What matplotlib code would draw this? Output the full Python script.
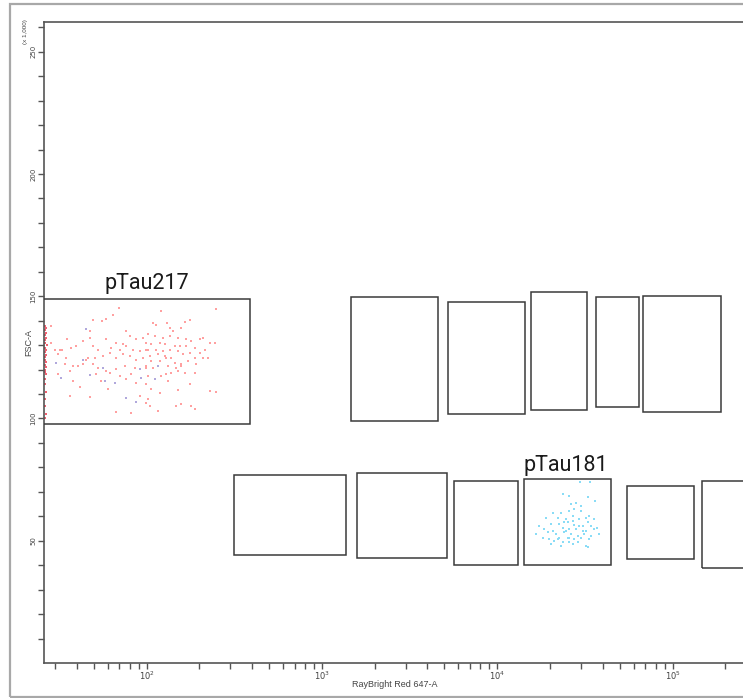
import numpy as np
import matplotlib
matplotlib.use('Agg')
import matplotlib.pyplot as plt
from matplotlib.patches import Rectangle
from matplotlib.ticker import LogLocator, FixedLocator, NullFormatter

# gates: fluorescence (RayBright Red 647-A) x FSC-A (x 1,000)
gate_x0 = [20, 1465, 5250, 15600, 36800, 68200, 314, 1585, 5680, 14260, 54600, 146500]
gate_x1 = [388, 4600, 14450, 32700, 64000, 188000, 1371, 5180, 13200, 44300, 131900, 400000]
gate_y0 = [97.8, 99.0, 101.8, 103.5, 104.7, 102.7, 44.3, 43.1, 40.2, 40.2, 42.7, 39.0]
gate_y1 = [148.8, 149.6, 147.6, 151.6, 149.6, 150.0, 76.9, 77.8, 74.5, 75.3, 72.4, 74.5]

gate_names = ['pTau217', 'pTau181']
gate_label_x = [100, 24700]
gate_label_y = [155, 80.6]

# pTau217 events (red)
red_x = [69.5, 64.3, 49.4, 55.8, 58.4, 28.6, 75.9, 47.4, 35.2, 43.4, 47.4, 58.9, 80.0, 87.3,
         95.3, 67.2, 73.3, 28.6, 29.9, 31.9, 33.1, 37.2, 39.7, 49.4, 52.8, 62.9, 70.2, 76.6,
         83.6, 91.2, 99.6, 31.3, 34.8, 45.3, 46.3, 50.6, 56.3, 61.5, 67.2, 73.3, 80.0, 87.3,
         95.3, 34.1, 38.0, 40.6, 43.4, 49.4, 52.8, 61.5, 67.2, 75.0, 85.5, 99.6, 31.3, 36.4,
         51.7, 58.9, 70.2, 81.8, 38.0, 41.5, 55.2, 76.6, 87.3, 99.6, 36.4, 47.4, 60.2, 91.2,
         99.6, 67.2, 81.8,
         249.5, 120.2, 108.7, 113.5, 131.2, 166.1, 177.4, 135.2, 141.3, 157.6, 101.8, 111.1,
         123.9, 135.2, 150.9, 168.3, 179.7, 200.4, 209.4, 228.6, 244.1, 99.6, 106.3, 118.6,
         126.6, 144.4, 154.2, 168.3, 187.7, 214.0, 101.8, 113.5, 123.9, 135.2, 150.9, 175.8,
         200.4, 104.0, 116.0, 126.6, 138.2, 161.1, 187.7, 209.4, 223.6, 106.3, 118.6, 129.4,
         144.4, 157.6, 172.0, 191.9, 99.6, 108.7, 132.3, 147.6, 157.6, 129.4, 138.2, 150.9,
         164.7, 187.7, 101.8, 121.2, 132.3, 175.8, 106.3, 118.6, 150.9, 228.6, 249.5, 101.8,
         104.0, 116.0, 147.6, 157.6, 179.7, 187.7]
red_y = [145.2, 142.5, 140.2, 139.7, 140.5, 138.0, 135.7, 135.7, 132.6, 131.6, 133.0, 132.3,
         133.7, 132.3, 133.0, 131.0, 130.3, 131.0, 128.2, 128.2, 128.0, 128.9, 129.6, 129.6,
         128.2, 128.9, 128.2, 129.6, 128.2, 127.6, 128.2, 126.2, 124.8, 124.1, 124.8, 124.8,
         125.5, 126.9, 124.8, 126.2, 125.5, 124.1, 124.8, 122.1, 121.4, 121.4, 122.1, 122.1,
         120.7, 118.7, 120.1, 121.4, 120.7, 120.7, 118.0, 119.4, 118.0, 119.4, 117.3, 118.0,
         115.3, 113.0, 115.3, 116.0, 114.6, 113.9, 109.2, 108.9, 111.9, 109.2, 106.5, 102.7,
         102.4,
         144.6, 143.9, 139.1, 138.4, 139.1, 139.4, 140.2, 137.1, 135.7, 136.8, 134.4, 133.7,
         133.0, 133.7, 133.0, 132.3, 131.6, 132.3, 133.0, 131.0, 131.0, 131.0, 130.3, 131.0,
         130.3, 129.6, 129.6, 129.6, 128.9, 128.2, 128.2, 128.2, 127.6, 128.2, 127.6, 126.9,
         126.9, 125.5, 126.2, 125.5, 124.8, 126.2, 124.8, 124.8, 124.8, 123.5, 123.5, 124.8,
         122.8, 122.1, 123.5, 122.1, 121.4, 120.7, 121.4, 120.7, 121.4, 118.0, 118.7, 119.4,
         118.7, 118.7, 117.3, 117.3, 115.3, 113.9, 111.9, 110.5, 111.6, 111.2, 111.0, 107.8,
         105.1, 103.1, 105.1, 105.8, 105.1, 103.7]

# events piled on the low edge of the axis
edge_x = [26.3, 26.6, 26.2, 26.8, 26.4, 26.7, 26.3, 26.5, 26.9, 26.2, 26.6, 26.4, 26.7, 26.3,
          26.5, 26.8, 26.2, 26.6, 26.4, 26.3, 26.7, 26.5, 26.4, 26.6, 26.3, 26.5, 26.7, 26.4]
edge_y = [138.0, 137.0, 136.0, 135.0, 134.0, 133.0, 132.0, 131.0, 130.0, 129.0, 128.0, 127.0,
          126.0, 125.0, 124.0, 123.0, 122.0, 121.0, 120.0, 119.0, 118.0, 116.0, 114.0, 111.0,
          108.0, 105.0, 102.0, 100.0]

# a few violet events inside the pTau217 gate
violet_x = [45.3, 43.4, 30.6, 56.3, 91.2, 47.4, 93.2, 32.7, 57.6, 65.7, 76.6, 87.3, 116.0, 111.1]
violet_y = [136.7, 124.1, 122.8, 120.7, 120.1, 117.6, 116.7, 116.7, 115.3, 114.6, 108.5, 106.7,
            121.4, 116.0]

# pTau181 events (cyan)
cyan_x = [29720, 33880, 23570, 25730, 32710, 36170, 26300, 28080, 29980, 20670, 23060, 25730,
          27470, 29980, 33440, 18940, 22070, 24630, 26880, 29330, 32010, 35700, 17360, 20220,
          22560, 25170, 27470, 30640, 34180, 37290, 18530, 20670, 23570, 25730, 28080, 32010,
          35700, 16610, 19360, 21590, 24090, 26300, 28700, 31320, 34180, 22560, 25170, 27470,
          29980, 33440, 21120, 23570, 25730, 28700, 20220, 23060, 26880, 32010, 32710, 22070,
          24630, 29330, 26880, 32710, 38120, 18130, 19610, 24090, 30640, 25730]
cyan_y = [74.1, 74.1, 69.0, 68.3, 67.7, 66.3, 64.9, 65.3, 64.3, 61.3, 61.5, 62.2, 62.9, 62.2,
          60.2, 59.1, 59.5, 58.8, 58.1, 58.8, 59.5, 58.8, 56.1, 56.8, 56.8, 57.5, 56.4, 56.1,
          56.1, 55.4, 54.7, 54.1, 55.4, 54.7, 54.7, 54.1, 54.7, 52.7, 53.4, 52.7, 53.4, 52.7,
          52.0, 52.7, 52.0, 51.3, 51.3, 50.7, 51.3, 50.7, 50.0, 49.3, 49.3, 49.3, 48.6, 47.9,
          48.6, 47.9, 47.3, 50.7, 54.1, 56.1, 60.2, 57.5, 52.7, 51.3, 50.7, 57.5, 54.1, 51.3]

x_min, x_max = 26, 262143
y_min, y_max = 0, 262.143

W, H = 743, 698
fig = plt.figure(figsize=(W / 100, H / 100), dpi=100, facecolor='white')

# outer frame of the exported plot window
fig.patches.append(Rectangle((10 / W, 1 - 697 / H), 1.0, (697 - 4) / H,
                             transform=fig.transFigure, fill=False,
                             edgecolor='#a8a8a8', linewidth=1.6))

ax = fig.add_axes([44 / W, 35 / H, 702 / W, 641 / H])
ax.set_xscale('log')
ax.set_xlim(x_min, x_max)
ax.set_ylim(y_min, y_max)

for sp in ax.spines.values():
    sp.set_color('#555555')
    sp.set_linewidth(1.2)

ax.scatter(edge_x, edge_y, s=3.5, c='#f06070', marker='s', linewidths=0, zorder=2)
ax.scatter(red_x, red_y, s=3.5, c='#ffa0a0', marker='s', linewidths=0, zorder=2)
ax.scatter(violet_x, violet_y, s=3.5, c='#b0a8dc', marker='s', linewidths=0, zorder=2)
ax.scatter(cyan_x, cyan_y, s=3.5, c='#8adcf6', marker='s', linewidths=0, zorder=2)

for x0, x1, y0, y1 in zip(gate_x0, gate_x1, gate_y0, gate_y1):
    ax.add_patch(Rectangle((x0, y0), x1 - x0, y1 - y0, fill=False,
                           edgecolor='#3a3a3a', linewidth=1.1, zorder=3))

for name, lx, ly in zip(gate_names, gate_label_x, gate_label_y):
    ax.text(lx, ly, name, ha='center', va='center', fontsize=15.5,
            family='Roboto', color='#1a1a1a', clip_on=False)

# x axis: log decades
ax.xaxis.set_major_locator(FixedLocator([1e2, 1e3, 1e4, 1e5]))
ax.set_xticklabels([r'$10^2$', r'$10^3$', r'$10^4$', r'$10^5$'])
ax.xaxis.set_minor_locator(LogLocator(base=10, subs=np.arange(2, 10)))
ax.xaxis.set_minor_formatter(NullFormatter())

# y axis, values in thousands
ax.set_yticks([50, 100, 150, 200, 250])
ax.set_yticklabels(['50', '100', '150', '200', '250'], rotation=90, va='center')
ax.yaxis.set_minor_locator(FixedLocator(np.arange(10, 262, 10)))

ax.tick_params(which='both', direction='out', length=4, width=1, color='#555555',
               labelsize=5, labelcolor='#444444', pad=1.5)
ax.tick_params(axis='x', which='major', labelsize=6, pad=1)

ax.set_xlabel('RayBright Red 647-A', fontsize=6.5, family='Liberation Sans',
              color='#444444')
ax.xaxis.set_label_coords((395 - 44) / 702, -(680 - 663) / 641)
ax.set_ylabel('FSC-A', fontsize=6.5, family='Liberation Sans', color='#444444')
ax.yaxis.set_label_coords(-(44 - 33) / 702, (663 - 343) / 641)
fig.text(25 / W, 1 - 32 / H, '(x 1,000)', rotation=90, fontsize=4.5,
         family='Liberation Sans', color='#444444', ha='center', va='center')

fig.savefig('out.png', dpi=100, facecolor='white')
